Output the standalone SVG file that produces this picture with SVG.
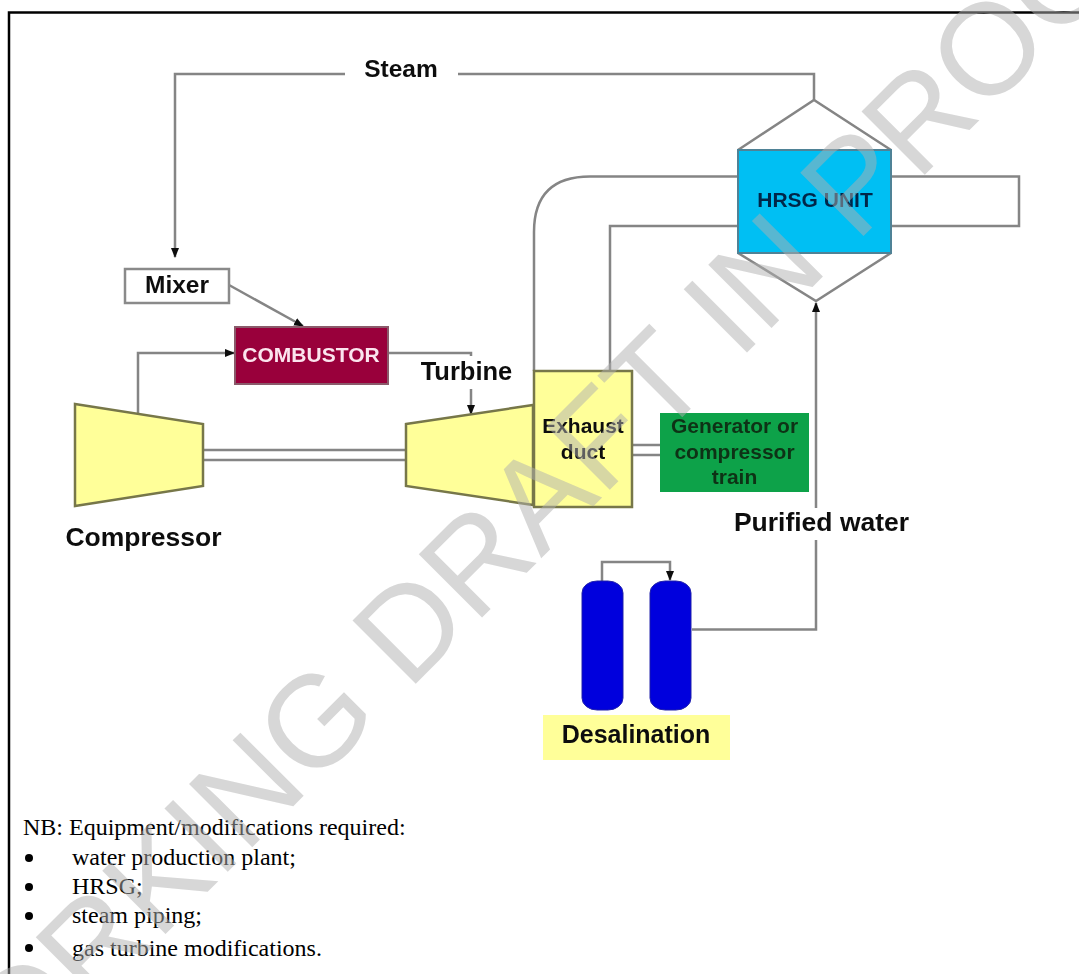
<svg xmlns="http://www.w3.org/2000/svg" width="1079" height="974" viewBox="0 0 1079 974">
<style>
.l{fill:none;stroke:#858585;stroke-width:2.5}
.y{fill:#ffff99;stroke:#77774a;stroke-width:2.5}
.s{font-family:"Liberation Sans",Arial,sans-serif;font-weight:700;fill:#111;text-anchor:middle}
.t{font-family:"Liberation Serif","Times New Roman",serif;font-size:24px;fill:#000}
.wm{font-family:"Liberation Sans",Arial,sans-serif;font-size:130px;fill:#b0b0b0;fill-opacity:.5}
</style>
<defs>
<marker id="a" viewBox="0 0 10 10" refX="9" refY="5" markerWidth="4" markerHeight="4" orient="auto" markerUnits="strokeWidth"><path d="M0 1L10 5L0 9Z" fill="#111"/></marker>
<filter id="b" x="-5%" y="-5%" width="110%" height="110%"><feGaussianBlur stdDeviation="0.6"/></filter>
</defs>
<rect width="1079" height="974" fill="#fff"/>
<path d="M9 974V12.500H1079" fill="none" stroke="#000" stroke-width="2.500"/>
<g filter="url(#b)">
<g id="connectors">
<path class="l" d="M345 74H175V257" marker-end="url(#a)"/>
<path class="l" d="M458 74H814V100"/>
<path class="l" d="M534 371V232Q534 176.500 590 176.500H738"/>
<path class="l" d="M610 371V226H738"/>
<path class="l" d="M891 176.500H1019V226H891"/>
<path class="l" d="M692 629.500H816V540M816 508V303" marker-end="url(#a)"/>
<path class="l" d="M229 285L303 326" marker-end="url(#a)"/>
<path class="l" d="M138 414V353H234" marker-end="url(#a)"/>
<path class="l" d="M388 353H471V356"/>
<path class="l" d="M471 389V414" marker-end="url(#a)"/>
<path class="l" d="M203 450H406M203 460H406"/>
<path class="l" d="M632 445H660M632 455H660"/>
<path class="l" d="M602 581V562H670V580" marker-end="url(#a)"/>
</g>
<g id="hrsg">
<path d="M738 150L814 100L891 150M738 253L816 301L891 253" class="l"/>
<rect x="738" y="150" width="153" height="103" fill="#00bff3" stroke="#4f8296" stroke-width="2"/>
<text class="s" x="815" y="207" font-size="21" style="fill:#06284a">HRSG UNIT</text>
</g>
<g id="mixer">
<rect x="125" y="269" width="104" height="34" fill="#fff" stroke="#8a8a8a" stroke-width="2.500"/>
<text class="s" x="177" y="293" font-size="24.500">Mixer</text>
</g>
<g id="combustor">
<rect x="235" y="327" width="153" height="57" fill="#99003a" stroke="#8a5a6a" stroke-width="2"/>
<text class="s" x="311" y="362" font-size="21" style="fill:#fbe4ee">COMBUSTOR</text>
</g>
<g id="compressor">
<path class="y" d="M75 404L203 424V486L75 506Z"/>
<text class="s" x="143.500" y="546" font-size="26.500">Compressor</text>
</g>
<g id="turbine">
<path class="y" d="M406 424L533 405V505L406 486Z"/>
<text class="s" x="466.500" y="380" font-size="25.500">Turbine</text>
</g>
<g id="exhaust">
<rect class="y" x="534" y="371" width="98" height="136"/>
<text class="s" x="583" y="433" font-size="21">Exhaust</text>
<text class="s" x="583" y="459" font-size="21">duct</text>
</g>
<g id="generator">
<rect x="660" y="413" width="149" height="79" fill="#0aa24a"/>
<text class="s" x="734.500" y="433" font-size="21" style="fill:#0b3315">Generator or</text>
<text class="s" x="734.500" y="459" font-size="21" style="fill:#0b3315">compressor</text>
<text class="s" x="734.500" y="484" font-size="21" style="fill:#0b3315">train</text>
</g>
<g id="purified"><text class="s" x="821.500" y="531" font-size="26.500">Purified water</text></g>
<g id="steam"><text class="s" x="401" y="77" font-size="24.500">Steam</text></g>
<g id="desalination">
<rect x="582" y="581" width="41" height="129" rx="15" ry="12" fill="#0000dd" stroke="#2222aa"/>
<rect x="650" y="581" width="41" height="129" rx="15" ry="12" fill="#0000dd" stroke="#2222aa"/>
<rect x="543" y="715" width="187" height="45" fill="#ffff99"/>
<text class="s" x="636" y="743" font-size="25">Desalination</text>
</g>
</g>
<g id="notes">
<text class="t" x="23" y="835">NB: Equipment/modifications required:</text>
<circle cx="29" cy="858" r="4"/><text class="t" x="72" y="865">water production plant;</text>
<circle cx="29" cy="887" r="4"/><text class="t" x="72" y="894">HRSG;</text>
<circle cx="29" cy="916" r="4"/><text class="t" x="72" y="923">steam piping;</text>
<circle cx="29" cy="948" r="4"/><text class="t" x="72" y="956">gas turbine modifications.</text>
</g>
<text class="wm" transform="translate(20 1079.500) rotate(-45)">ORKING DRAFT IN PROC</text>
</svg>
